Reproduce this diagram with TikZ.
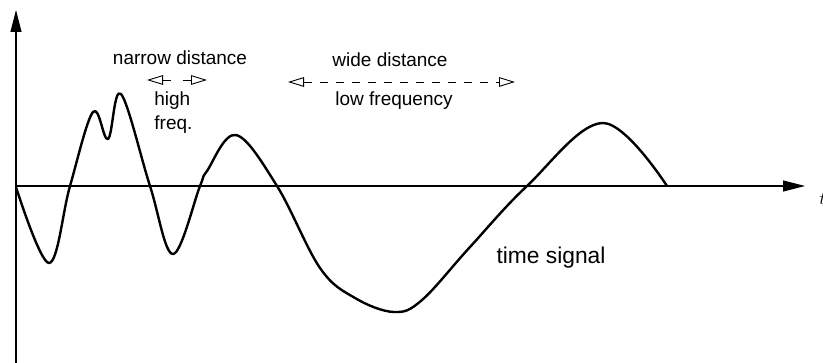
\documentclass[tikz,border=0pt]{standalone}
\usepackage{fontspec}
\setmainfont{Liberation Sans}
\usetikzlibrary{arrows.meta,calc,positioning}

\tikzset{
  axis/.style={line width=0.55pt, -{Triangle[length=11pt,width=5.5pt]}},
  signal/.style={line width=1.2pt, line join=round},
  spacing/.style={line width=0.45pt, dash pattern=on 4pt off 4pt,
    {Triangle[open,length=8pt,width=4.8pt]}-{Triangle[open,length=8pt,width=4.8pt]}},
  lbl/.style={font=\fontsize{9.5}{11.5}\selectfont, inner sep=0pt, anchor=base},
}

\begin{document}
\begin{tikzpicture}[x=0.5pt, y=-0.5pt]

  \useasboundingbox (0,0) rectangle (823,363);

  %-------------------------
  % Axes
  %-------------------------
  \coordinate (O) at (16,186);
  \coordinate (ybot) at (16,363);
  \coordinate (ytop) at (16,10);
  \coordinate (xend) at (805,186);

  \draw[axis] (ybot) -- (ytop);
  \draw[axis] (O) -- (xend);
  \node[lbl, anchor=base west] (tlabel) at (819,205) {$t$};

  %-------------------------
  % Time signal
  %-------------------------
  \draw[signal] plot[smooth, tension=0.6] coordinates {
    (16,187) (49,263) (70,186) (93,112) (108,139) (121,94) (150,186)
    (173,254) (200,186) (207,171) (236,135) (277,186) (320,268)
    (355,298) (394,312) (422,300) (470,247) (527,186) (603,123) (667,186)};

  \node[lbl, font=\fontsize{11.4}{13.5}\selectfont] (sig) at (551,263) {time signal};

  %-------------------------
  % Narrow spacing: high frequency
  %-------------------------
  \coordinate (nl) at (147,80);
  \coordinate (nr) at (207,80);
  \draw[spacing, dash pattern=on 4pt off 6pt] (nl) -- (nr);

  \node[lbl] (narrow) at (180,65) {narrow distance};
  \node[lbl, anchor=base west] (high) at (154,106) {high};
  \node[lbl, anchor=base west] (freq) at (154,130) {freq.};

  %-------------------------
  % Wide spacing: low frequency
  %-------------------------
  \coordinate (wl) at (288,82);
  \coordinate (wr) at (515,82);
  \draw[spacing] (wl) -- (wr);

  \node[lbl] (wide) at (390,67) {wide distance};
  \node[lbl] (low) at (394,106) {low frequency};

\end{tikzpicture}
\end{document}
